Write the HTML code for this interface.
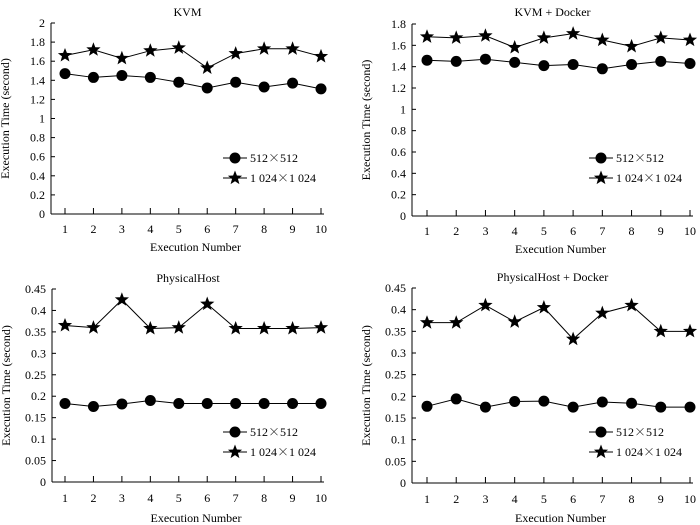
<!DOCTYPE html>
<html><head><meta charset="utf-8"><style>
html,body{margin:0;padding:0;background:#fff;}
svg{display:block;font-family:"Liberation Serif","Noto Serif CJK SC",serif;}
</style></head><body>
<svg id="chart" width="700" height="525" viewBox="0 0 700 525" xmlns="http://www.w3.org/2000/svg"></svg>
<script>
const categories = [1,2,3,4,5,6,7,8,9,10];
const kvm512 = [1.47,1.43,1.45,1.43,1.38,1.32,1.38,1.33,1.37,1.31];
const kvm1024 = [1.66,1.72,1.63,1.71,1.74,1.53,1.68,1.73,1.73,1.65];
const kvmd512 = [1.46,1.45,1.47,1.44,1.41,1.42,1.38,1.42,1.45,1.43];
const kvmd1024 = [1.68,1.67,1.69,1.58,1.67,1.71,1.65,1.59,1.67,1.65];
const ph512 = [0.183,0.176,0.182,0.19,0.183,0.183,0.183,0.183,0.183,0.183];
const ph1024 = [0.365,0.36,0.425,0.358,0.36,0.415,0.358,0.358,0.358,0.36];
const phd512 = [0.177,0.194,0.175,0.188,0.189,0.175,0.187,0.184,0.175,0.175];
const phd1024 = [0.37,0.37,0.41,0.372,0.405,0.332,0.392,0.41,0.35,0.35];
const ticksA = ["0","0.2","0.4","0.6","0.8","1","1.2","1.4","1.6","1.8","2"];
const ticksB = ["0","0.2","0.4","0.6","0.8","1","1.2","1.4","1.6","1.8"];
const ticksC = ["0","0.05","0.1","0.15","0.2","0.25","0.3","0.35","0.4","0.45"];
const legendLabels = [["512","512"],["1 024","1 024"]];

const NS="http://www.w3.org/2000/svg";
const svg=document.getElementById('chart');
function mk(tag,attrs,parent,text){const e=document.createElementNS(NS,tag);for(const k in attrs)e.setAttribute(k,attrs[k]);if(text!==undefined)e.textContent=text;(parent||svg).appendChild(e);return e;}
function starPts(cx,cy,R){const r=R*0.42;let p=[];for(let i=0;i<10;i++){const a=-Math.PI/2+i*Math.PI/5;const rr=i%2?r:R;p.push((cx+rr*Math.cos(a)).toFixed(1)+","+(cy+rr*Math.sin(a)).toFixed(1));}return p.join(" ");}

const panels=[
 {name:"kvm",title:"KVM",ax:51,top:23,bot:214,x1:65,x10:321,ticks:ticksA,max:2,s1:kvm512,s2:kvm1024,ty:12,xl:229,xt:247,ly:158,lx:223},
 {name:"kvm-docker",title:"KVM + Docker",ax:412,top:24,bot:216,x1:427,x10:690,ticks:ticksB,max:1.8,s1:kvmd512,s2:kvmd1024,ty:12,xl:231,xt:249,ly:158,lx:589},
 {name:"physicalhost",title:"PhysicalHost",ax:52,top:289,bot:482,x1:65,x10:321,ticks:ticksC,max:0.45,s1:ph512,s2:ph1024,ty:278,xl:498,xt:518,ly:432,lx:223},
 {name:"physicalhost-docker",title:"PhysicalHost + Docker",ax:412,top:288,bot:483,x1:427,x10:690,ticks:ticksC,max:0.45,s1:phd512,s2:phd1024,ty:277,xl:499,xt:518,ly:432,lx:589}
];
panels.forEach(p=>{
 const g=mk('g',{});
 
 
 const X=i=>p.x1+(p.x10-p.x1)*(i-1)/9;
 const Y=v=>p.bot-(p.bot-p.top)*v/p.max;
 const xend=p.x10+3;
 const t=mk('text',{x:(p.ax+xend)/2,y:p.ty+4,'text-anchor':'middle','font-size':12},g,p.title);
 
 const ya=mk('line',{x1:p.ax,y1:p.top,x2:p.ax,y2:p.bot,stroke:'#000','stroke-width':1},g);
 
 const xa=mk('line',{x1:p.ax,y1:p.bot,x2:xend,y2:p.bot,stroke:'#000','stroke-width':1},g);
 
 p.ticks.forEach(tk=>{const v=parseFloat(tk);const y=Y(v);
  mk('line',{x1:p.ax,y1:y,x2:p.ax+4,y2:y,stroke:'#000'},g);
  const l=mk('text',{x:p.ax-6,y:y+4,'text-anchor':'end','font-size':12},g,tk);
  });
 categories.forEach(c=>{const x=X(c);
  mk('line',{x1:x,y1:p.bot,x2:x,y2:p.bot-6,stroke:'#000'},g);
  const l=mk('text',{x:x,y:p.xl+4,'text-anchor':'middle','font-size':12},g,String(c));
  });
 const xt=mk('text',{x:(p.ax+xend)/2+8,y:p.xt+4,'text-anchor':'middle','font-size':12},g,'Execution Number');
 
 const yy=(p.top+p.bot)/2;const yx=p.ax-42;
 const yt=mk('text',{x:yx,y:yy,'text-anchor':'middle','font-size':12,transform:`rotate(-90 ${yx} ${yy})`},g,'Execution Time (second)');
 
 [p.s1,p.s2].forEach((s,si)=>{
  const pl=mk('polyline',{points:categories.map((c,i)=>X(c)+','+Y(s[i])).join(' '),fill:'none',stroke:'#000','stroke-width':1},g);
  
  categories.forEach((c,i)=>{let m;
   if(si===0) m=mk('circle',{cx:X(c),cy:Y(s[i]),r:5.5,fill:'#000'},g);
   else m=mk('polygon',{points:starPts(X(c),Y(s[i]),7.5),fill:'#000'},g);
   });
 });
 legendLabels.forEach((lab,i)=>{const ly=p.ly+i*20;
  const le=mk('g',{},g);
  mk('line',{x1:p.lx,y1:ly,x2:p.lx+24,y2:ly,stroke:'#000'},le);
  if(i===0) mk('circle',{cx:p.lx+12,cy:ly,r:5.5,fill:'#000'},le);
  else mk('polygon',{points:starPts(p.lx+12,ly,7.5),fill:'#000'},le);
  const tx=mk('text',{x:p.lx+27,y:ly+4,'font-size':12},le);
  mk('tspan',{},tx,lab[0]);
  mk('tspan',{'font-family':'"Noto Serif CJK SC",serif'},tx,'×');
  mk('tspan',{},tx,lab[1]);
 });
});
</script>
</body></html>
